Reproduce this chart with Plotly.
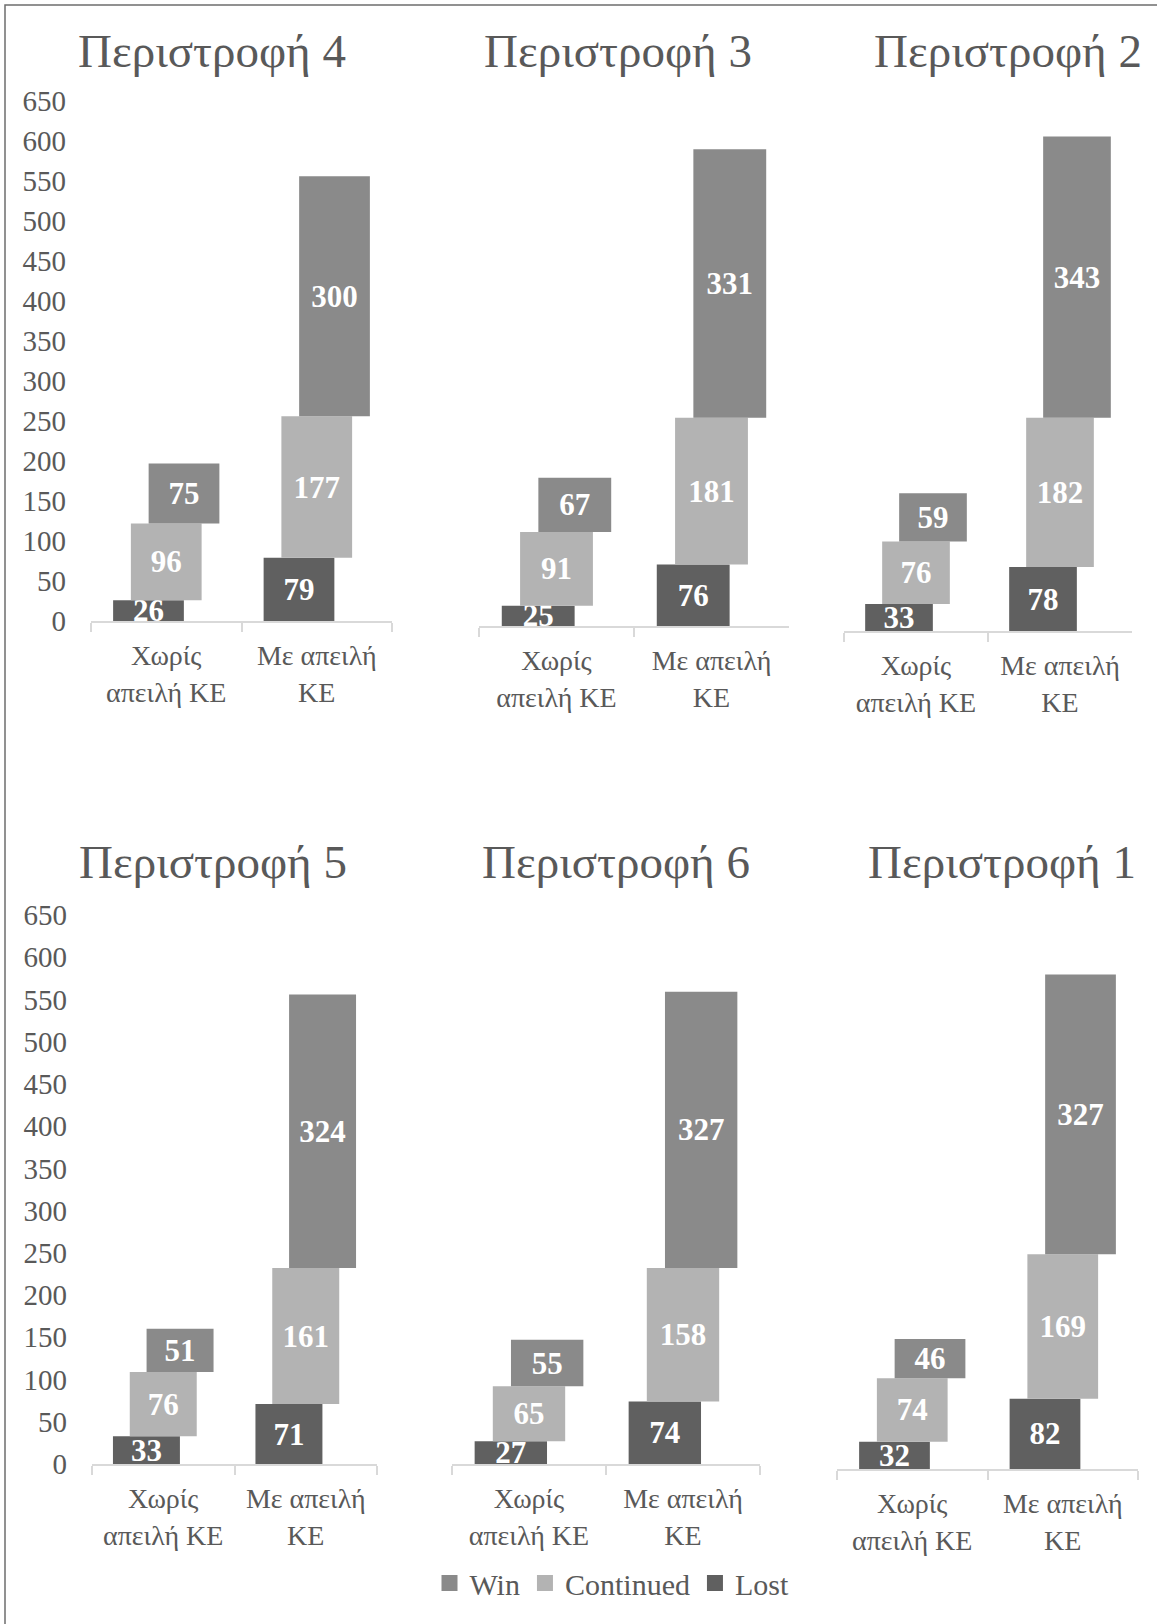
import plotly.graph_objects as go

# ---------------- data ----------------
panel_titles = ["Περιστροφή 4", "Περιστροφή 3", "Περιστροφή 2",
                "Περιστροφή 5", "Περιστροφή 6", "Περιστροφή 1"]
categories = ["Χωρίς<br>απειλή ΚΕ", "Με απειλή<br>ΚΕ"]
lost = [[26, 79], [25, 76], [33, 78], [33, 71], [27, 74], [32, 82]]
continued = [[96, 177], [91, 181], [76, 182], [76, 161], [65, 158], [74, 169]]
win = [[75, 300], [67, 331], [59, 343], [51, 324], [55, 327], [46, 327]]
series_names = ["Win", "Continued", "Lost"]
y_tick_values = list(range(0, 651, 50))

# ---------------- style / layout ----------------
W, H = 1157, 1624
FONT = "Liberation Serif"
TXT = "#595959"
COL = {"Win": "#8a8a8a", "Continued": "#b3b3b3", "Lost": "#606060"}
# plot boxes in pixels: (x0, x1, ytop, ybottom)
boxes = [(91, 392, 101, 621), (479, 789, 99, 626), (844, 1132, 98, 631),
         (92, 377, 915, 1464), (452, 760, 915, 1464), (837, 1138, 913, 1469)]
title_pos = [(212, 51), (618, 51), (1008, 51), (213, 862), (616, 862), (1002, 862)]
show_y = [True, False, False, True, False, False]

BW = 0.47
SH = 0.118
offsets = {"Lost": -BW / 2 - SH, "Continued": -BW / 2, "Win": -BW / 2 + SH}

fig = go.Figure()
layout_axes = {}
for i in range(6):
    n = "" if i == 0 else str(i + 1)
    xa, ya = "x" + n, "y" + n
    lo, co, wi = lost[i], continued[i], win[i]
    base_c = lo
    base_w = [a + b for a, b in zip(lo, co)]
    for name, vals, base in [("Lost", lo, [0, 0]), ("Continued", co, base_c), ("Win", wi, base_w)]:
        fig.add_trace(go.Bar(
            x=categories, y=vals, base=base, name=name,
            xaxis=xa, yaxis=ya, width=BW, offset=offsets[name],
            marker=dict(color=COL[name], line=dict(width=0)),
            text=[str(v) for v in vals], textposition="inside",
            insidetextanchor="middle", constraintext="none", textangle=0,
            textfont=dict(family=FONT, size=31, color="white", weight="bold"),
            showlegend=False, hoverinfo="skip",
        ))
    x0, x1, yt, yb = boxes[i]
    layout_axes["xaxis" + n] = dict(
        domain=[x0 / W, x1 / W], anchor=ya, type="category", automargin=False,
        range=[-0.5, 1.5], showline=True, linecolor="#d9d9d9", linewidth=1.5,
        ticks="outside", tickson="boundaries", ticklen=9, tickcolor="#d9d9d9",
        tickwidth=1.5, showgrid=False, zeroline=False, ticklabelstandoff=9,
        tickfont=dict(family=FONT, size=28, color=TXT),
    )
    layout_axes["yaxis" + n] = dict(
        domain=[1 - yb / H, 1 - yt / H], anchor=xa, range=[0, 650], automargin=False,
        tickvals=y_tick_values, showticklabels=show_y[i], showgrid=False,
        zeroline=False, showline=False, ticks="", ticklabelstandoff=24,
        tickfont=dict(family=FONT, size=29, color=TXT),
    )
    tx, ty = title_pos[i]
    fig.add_annotation(text=panel_titles[i], x=tx / W, y=1 - ty / H,
                       xref="paper", yref="paper", showarrow=False,
                       xanchor="center", yanchor="middle",
                       font=dict(family=FONT, size=47, color=TXT))

# legend entries
for name in series_names:
    fig.add_trace(go.Scatter(
        x=[None], y=[None], mode="markers", name=name,
        marker=dict(symbol="square", size=16, color=COL[name]),
        xaxis="x", yaxis="y", showlegend=True, hoverinfo="skip",
    ))

fig.update_layout(
    width=W, height=H, margin=dict(l=0, r=0, t=0, b=0, autoexpand=False),
    paper_bgcolor="white", plot_bgcolor="white", barmode="overlay",
    legend=dict(orientation="h", x=612 / W, xanchor="center",
                y=1 - 1583 / H, yanchor="middle",
                font=dict(family=FONT, size=30, color=TXT),
                itemwidth=30, tracegroupgap=0, bgcolor="rgba(0,0,0,0)"),
    shapes=[dict(type="rect", xref="paper", yref="paper",
                 x0=5 / W, x1=1.05, y0=-0.05, y1=1 - 5 / H,
                 line=dict(color="#6e6e6e", width=1.5), fillcolor="rgba(0,0,0,0)")],
    **layout_axes,
)

fig.write_html("out.html")
